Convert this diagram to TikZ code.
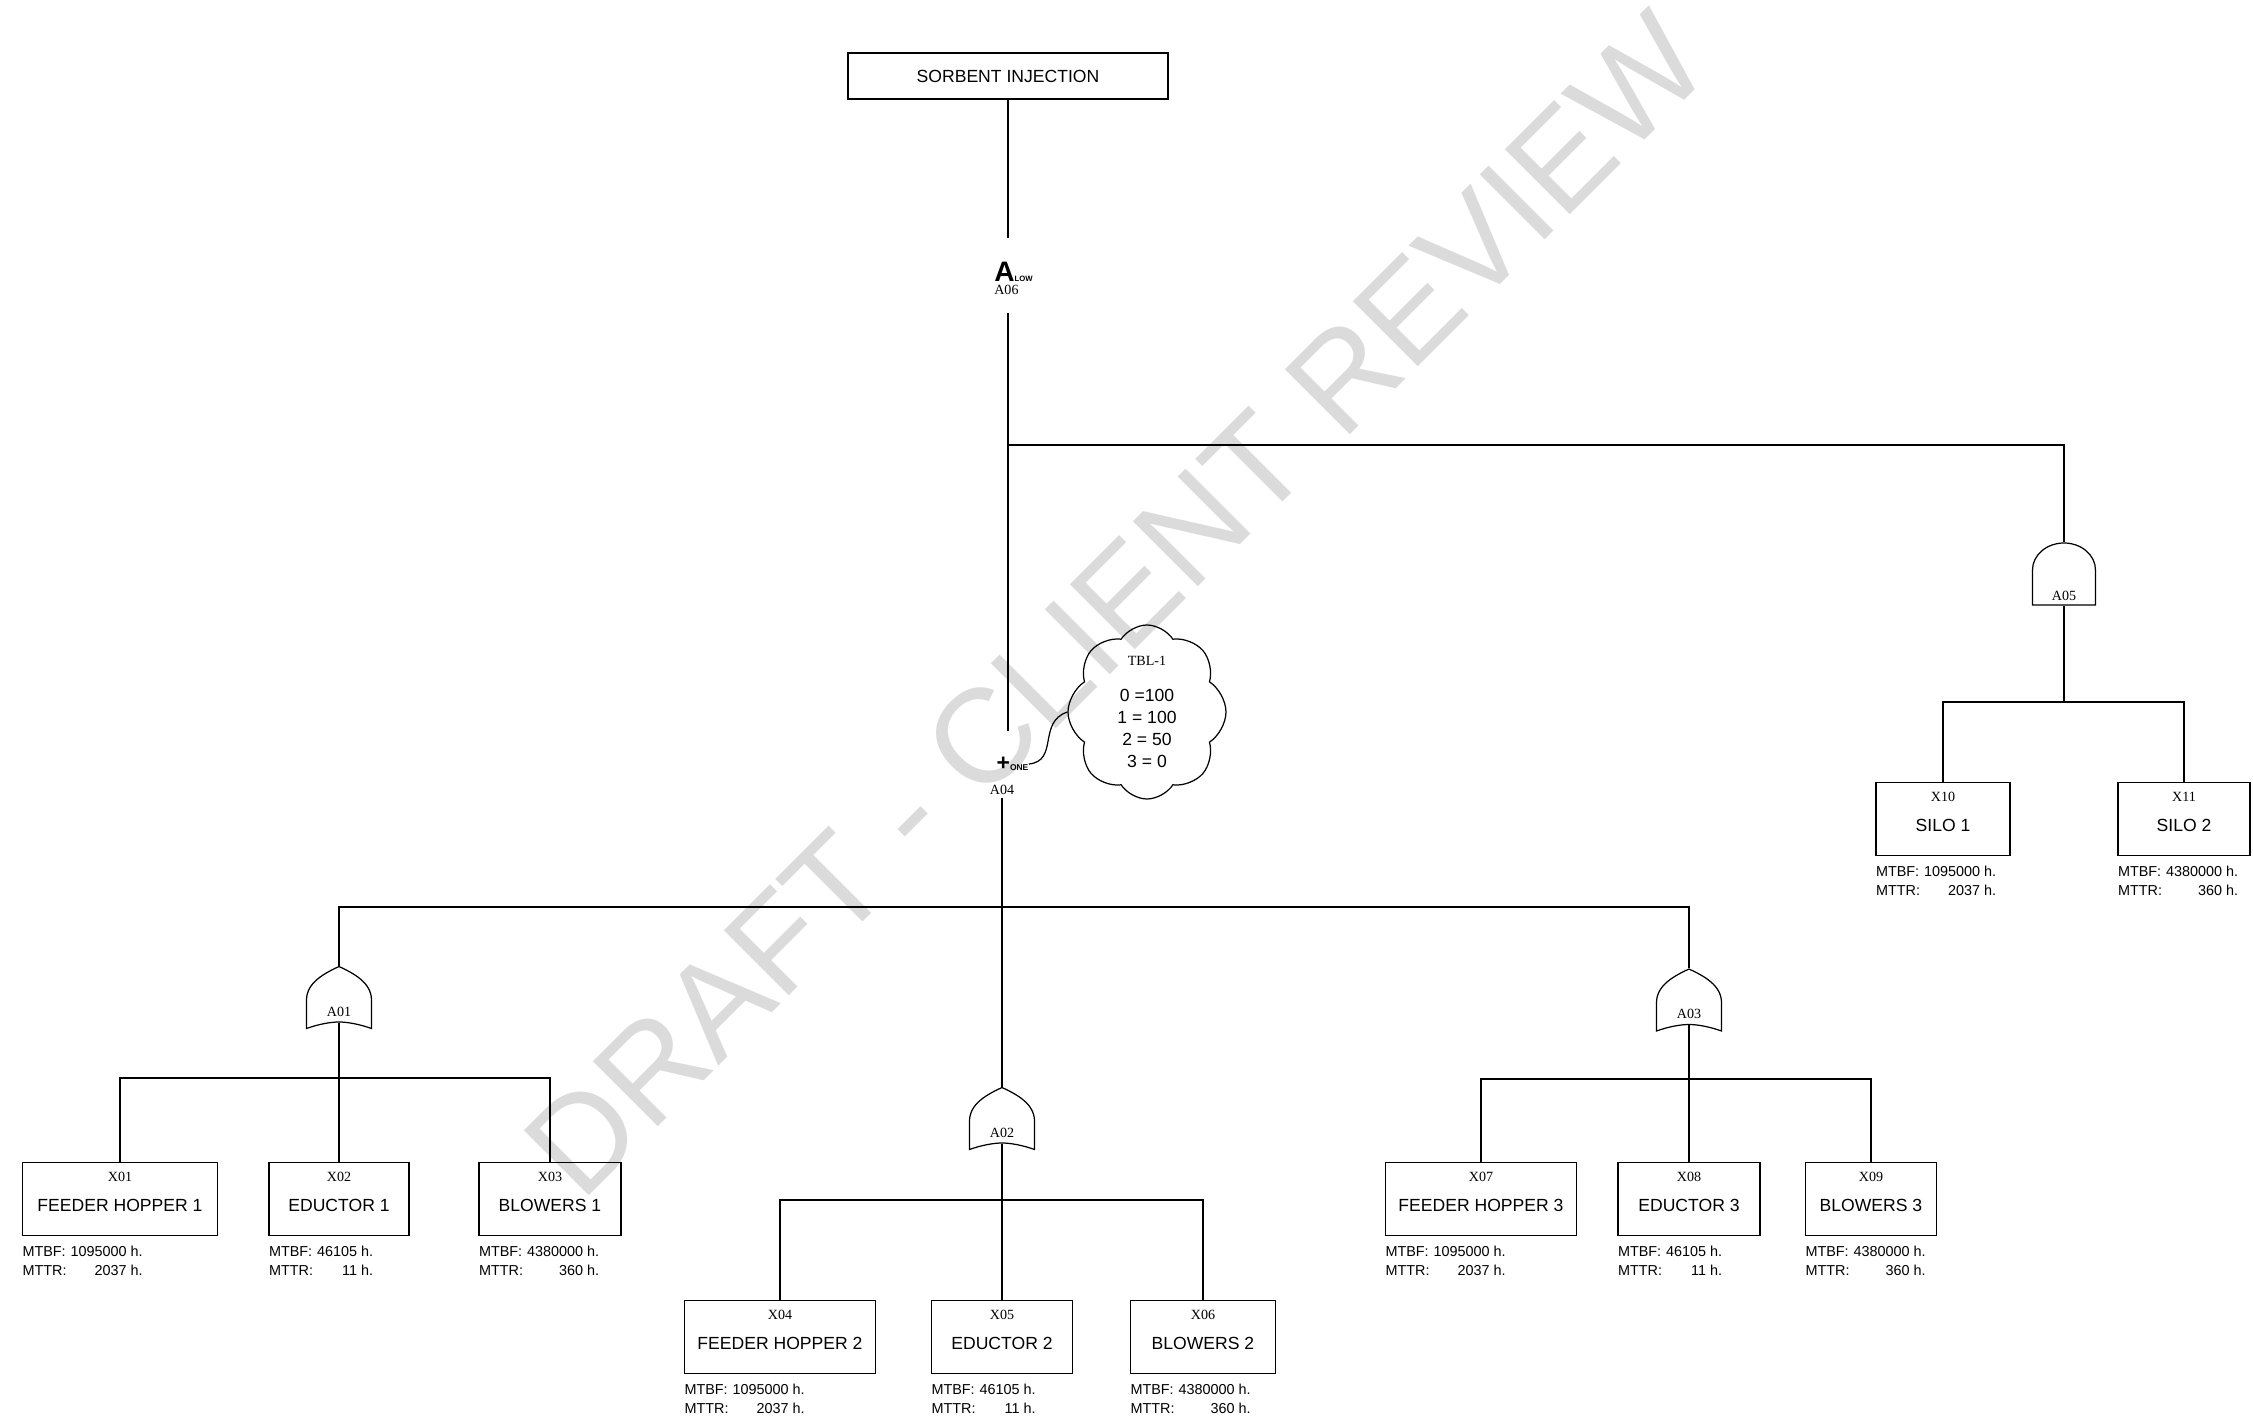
\documentclass[tikz,border=0pt]{standalone}
\usepackage{fontspec}
\setmainfont{Liberation Serif}
\setsansfont{Liberation Sans}
\usetikzlibrary{shapes.symbols}

% MTBF / MTTR lines under a basic event
\newcommand{\stats}[2]{\sffamily\fontsize{4.1}{5.5}\selectfont
  \begin{tabular}{@{}l@{\hspace{0.28em}}r@{}}MTBF: & #1 h.\\ MTTR: & #2 h.\end{tabular}}

\tikzset{
  evbox/.style={draw, minimum width=#1, minimum height=0.73cm, inner sep=0pt,
    font=\sffamily\fontsize{5}{6}\selectfont, text height=0.24cm, text depth=0pt},
  evcode/.style={anchor=north, inner sep=0pt, yshift=-0.1cm, text height=, text depth=,
    font=\rmfamily\fontsize{4}{4}\selectfont},
  evstat/.style={anchor=north west, inner sep=0pt, yshift=-0.06cm, text height=, text depth=},
  orgate/.style={minimum width=0.65cm, minimum height=0.62cm, inner sep=0pt,
    font=\rmfamily\fontsize{4}{4}\selectfont, text height=0.374cm, text depth=0pt},
  andgate/.style={minimum width=0.63cm, minimum height=0.62cm, inner sep=0pt,
    font=\rmfamily\fontsize{4}{4}\selectfont, text height=0.534cm, text depth=0pt},
  gatelbl/.style={inner sep=0pt, font=\rmfamily\mdseries\fontsize{4}{4}\selectfont}
}

\begin{document}
\begin{tikzpicture}[line width=0.35pt]
    \useasboundingbox (0,0) rectangle (22.53,-14.26);

    % watermark
    \node[rotate=45, text=gray!28, font=\sffamily\fontsize{38}{38}\selectfont] (stamp) at (11.16,-6.04) {DRAFT - CLIENT REVIEW};

    % top event
    \node[draw, minimum width=3.2cm, minimum height=0.46cm, inner sep=0pt,
      font=\sffamily\fontsize{5}{6}\selectfont] (sorbent) at (10.08,-0.76) {SORBENT INJECTION};

    % A06 (low) and A04 (one)
    \node[inner sep=0pt, font=\sffamily\bfseries, label={[gatelbl, anchor=north west, yshift=-0.02cm]south west:A06}] (a06) at (10.135,-2.72)
      {\fontsize{8}{8}\selectfont A\fontsize{2.2}{2.2}\selectfont LOW};
    \node[inner sep=0pt, font=\sffamily\bfseries, label={[gatelbl, anchor=north, xshift=-0.105cm, yshift=-0.13cm]south:A04}] (a04) at (10.125,-7.64)
      {\fontsize{6.5}{6.5}\selectfont +\fontsize{2.4}{2.4}\selectfont ONE};

    % table of A04
    \node[cloud, draw, cloud puffs=8, cloud puff arc=115, cloud ignores aspect, minimum width=1.58cm, minimum height=1.74cm,
      inner sep=0pt, align=center, font=\sffamily\fontsize{5}{6.2}\selectfont] (tbl1) at (11.47,-7.12)
      {{\rmfamily\fontsize{4}{4}\selectfont TBL-1}\\[4pt] 0 =100\\ 1 = 100\\ 2 = 50\\ 3 = 0};

    % gates
    \node[orgate] (a01) at (3.39,-9.975) {A01};
    \node[orgate] (a02) at (10.02,-11.185) {A02};
    \node[orgate] (a03) at (16.89,-10.0) {A03};
    \node[andgate] (a05) at (20.64,-5.74) {A05};
    \foreach \gt in {a01,a02,a03}
      \draw[shift={(\gt.center)}] (0,0.31) .. controls (0.15,0.24) and (0.32,0.15) .. (0.325,-0.02)
        -- (0.325,-0.31) .. controls (0.2,-0.265) and (0.08,-0.245) .. (0,-0.245)
        .. controls (-0.08,-0.245) and (-0.2,-0.265) .. (-0.325,-0.31)
        -- (-0.325,-0.02) .. controls (-0.32,0.15) and (-0.15,0.24) .. cycle;
    \draw[shift={(a05.center)}] (-0.315,-0.31) -- (-0.315,0.04)
      arc[start angle=180, end angle=0, x radius=0.315, y radius=0.27] -- (0.315,-0.31) -- cycle;

    % basic events
    \node[evbox=1.95cm, label={[evcode]north:X01}, label={[evstat]south west:\stats{1095000}{2037}}] (x01) at (1.20,-11.99) {FEEDER HOPPER 1};
    \node[evbox=1.40cm, label={[evcode]north:X02}, label={[evstat]south west:\stats{46105}{11}}] (x02) at (3.39,-11.99) {EDUCTOR 1};
    \node[evbox=1.42cm, label={[evcode]north:X03}, label={[evstat]south west:\stats{4380000}{360}}] (x03) at (5.50,-11.99) {BLOWERS 1};
    \node[evbox=1.91cm, label={[evcode]north:X04}, label={[evstat]south west:\stats{1095000}{2037}}] (x04) at (7.80,-13.37) {FEEDER HOPPER 2};
    \node[evbox=1.41cm, label={[evcode]north:X05}, label={[evstat]south west:\stats{46105}{11}}] (x05) at (10.02,-13.37) {EDUCTOR 2};
    \node[evbox=1.45cm, label={[evcode]north:X06}, label={[evstat]south west:\stats{4380000}{360}}] (x06) at (12.03,-13.37) {BLOWERS 2};
    \node[evbox=1.91cm, label={[evcode]north:X07}, label={[evstat]south west:\stats{1095000}{2037}}] (x07) at (14.81,-11.99) {FEEDER HOPPER 3};
    \node[evbox=1.42cm, label={[evcode]north:X08}, label={[evstat]south west:\stats{46105}{11}}] (x08) at (16.89,-11.99) {EDUCTOR 3};
    \node[evbox=1.31cm, label={[evcode]north:X09}, label={[evstat]south west:\stats{4380000}{360}}] (x09) at (18.71,-11.99) {BLOWERS 3};
    \node[evbox=1.34cm, label={[evcode]north:X10}, label={[evstat]south west:\stats{1095000}{2037}}] (x10) at (19.43,-8.19) {SILO 1};
    \node[evbox=1.32cm, label={[evcode]north:X11}, label={[evstat]south west:\stats{4380000}{360}}] (x11) at (21.84,-8.19) {SILO 2};

    % upper connectors
    \draw[shorten >=0.24cm] (sorbent.south) -- (sorbent.south |- a06.north);
    \draw[shorten <=0.31cm, shorten >=0.255cm] (sorbent.south |- a06.south) -- (sorbent.south |- a04.north);
    \coordinate (j6) at (10.08,-4.45);
    \draw (j6) -| (a05.north);
    \draw (a04.east) .. controls +(0.3,0.03) and +(-0.3,-0.1) .. (tbl1.west);

    % A04 to its gates
    \draw[shorten <=0.27cm] (a02.north |- a04.south) -- (a02.north);
    \coordinate (j4) at (10.02,-9.07);
    \draw (a01.north) |- (j4) -| (a03.north);

    % gates to events
    \coordinate (j1) at (3.39,-10.78);
    \draw[shorten <=-0.065cm] (a01.south) -- (j1);
    \draw (x01.north) |- (j1) -| (x03.north);
    \draw (j1) -- (x02.north);

    \coordinate (j2) at (10.02,-12.00);
    \draw[shorten <=-0.065cm] (a02.south) -- (j2);
    \draw (x04.north) |- (j2) -| (x06.north);
    \draw (j2) -- (x05.north);

    \coordinate (j3) at (16.89,-10.79);
    \draw[shorten <=-0.065cm] (a03.south) -- (j3);
    \draw (x07.north) |- (j3) -| (x09.north);
    \draw (j3) -- (x08.north);

    \coordinate (j5) at (20.64,-7.02);
    \draw (a05.south) -- (j5);
    \draw (x10.north) |- (j5) -| (x11.north);
\end{tikzpicture}
\end{document}
